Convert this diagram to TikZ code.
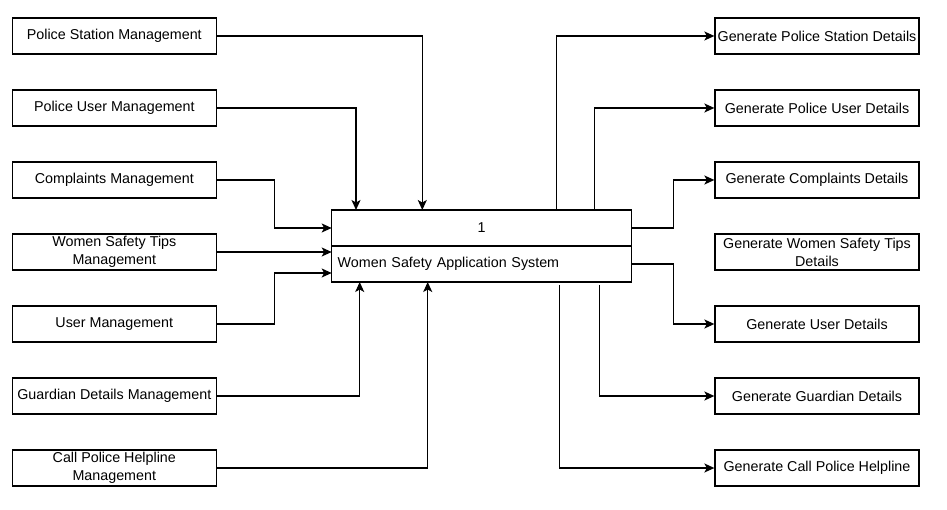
\documentclass[tikz,border=0pt]{standalone}
\usepackage{fontspec}
\setmainfont{Liberation Sans}
\usetikzlibrary{arrows.meta}

\begin{document}
\begin{tikzpicture}[x=1pt, y=-1pt,
    box/.style={draw, line width=1.3pt, minimum width=204pt, minimum height=36pt,
        inner sep=0pt, align=center, font=\fontsize{14.3}{18}\selectfont},
    sysbox/.style={draw, line width=1.3pt, minimum width=300pt, minimum height=36pt,
        inner sep=0pt, outer sep=0pt, font=\fontsize{14.3}{18}\selectfont},
    flow/.style={line width=1.3pt, -{Stealth[length=10pt, width=9pt, inset=2.5pt]}},
    link/.style={line width=1.3pt}]

    % Canvas of the reference size
    \useasboundingbox (0,0) rectangle (947,510);

    % Columns of the side boxes
    \def\xl{114.3}
    \def\xr{817}

    % Inputs on the left
    \node[box] (psm) at (\xl, 36) {Police Station Management};
    \node[box] (pum) at (\xl,108) {Police User Management};
    \node[box] (cm)  at (\xl,180) {Complaints Management};
    \node[box] (wst) at (\xl,252) {Women Safety Tips\\Management};
    \node[box] (um)  at (\xl,324) {User Management};
    \node[box] (gdm) at (\xl,396) {Guardian Details Management};
    \node[box] (cph) at (\xl,468) {Call Police Helpline\\Management};

    % Outputs on the right
    \node[box] (gps) at (\xr, 36) {Generate Police Station Details};
    \node[box] (gpu) at (\xr,108) {Generate Police User Details};
    \node[box] (gc)  at (\xr,180) {Generate Complaints Details};
    \node[box] (gwt) at (\xr,252) {Generate Women Safety Tips\\Details};
    \node[box] (gu)  at (\xr,324) {Generate User Details};
    \node[box] (gg)  at (\xr,396) {Generate Guardian Details};
    \node[box] (gcp) at (\xr,468) {Generate Call Police Helpline};

    % The process box, number on top and name below
    \node[sysbox] (sysno) at (481.7,228) {1};
    \node[sysbox, anchor=north, text width=288pt, inner xsep=6pt, align=left]
        (sysname) at (sysno.south) {Women Safety Application System};

    % Arrows into the process
    \draw[flow] (psm.east) -| ([xshift=90.6pt]sysno.north west);
    \draw[flow] (pum.east) -| ([xshift=24.3pt]sysno.north west);
    \draw[flow] (cm.east) -- ++(57.5,0) |- (sysno.west);
    \draw[flow] (wst.east) -- (wst.east -| sysname.west);
    \draw[flow] (um.east) -- ++(57.5,0) |- ([yshift=9pt]sysname.south west);
    \draw[flow] (gdm.east) -| ([xshift=28pt]sysname.south west);
    \draw[flow] (cph.east) -| ([xshift=96pt]sysname.south west);

    % Arrows out of the process
    \draw[flow] ([xshift=224.8pt]sysno.north west) |- (gps.west);
    \draw[flow] ([xshift=263pt]sysno.north west) |- (gpu.west);
    \draw[flow] (sysno.east) -- ++(41.5,0) |- (gc.west);
    \draw[flow] (sysname.east) -- ++(41.5,0) |- (gu.west);
    \draw[flow] ([xshift=268pt, yshift=-3pt]sysname.south west) |- (gg.west);
    \draw[flow] ([xshift=227.5pt, yshift=-3pt]sysname.south west) |- (gcp.west);

\end{tikzpicture}
\end{document}
